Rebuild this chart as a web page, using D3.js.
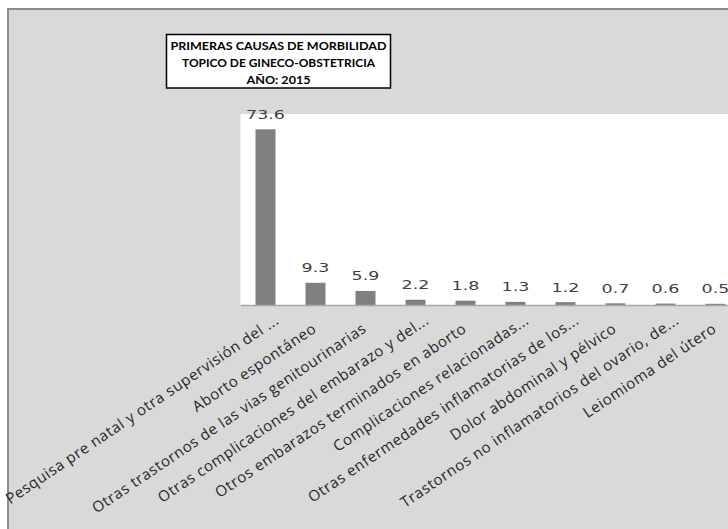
<!DOCTYPE html>
<html><head><meta charset="utf-8">
<script src="https://cdn.jsdelivr.net/npm/d3@7"></script>
<style>html,body{margin:0;padding:0;background:#fff;}svg{display:block;}</style>
</head><body>
<script>
const categories = [
  "Pesquisa pre natal y otra supervisión del ...",
  "Aborto espontáneo",
  "Otras trastornos de las vias genitourinarias",
  "Otras complicaciones del embarazo y  del...",
  "Otros embarazos terminados en aborto",
  "Complicaciones relacionadas...",
  "Otras enfermedades inflamatorias de los...",
  "Dolor abdominal y pélvico",
  "Trastornos no inflamatorios del ovario, de...",
  "Leiomioma del útero"
];
const values = [73.6, 9.3, 5.9, 2.2, 1.8, 1.3, 1.2, 0.7, 0.6, 0.5];
const titleLines = ["PRIMERAS CAUSAS DE MORBILIDAD", "TOPICO DE GINECO-OBSTETRICIA", "AÑO: 2015"];
const yDomain = [0, 80];

const W = 728, H = 529;
const svg = d3.select("body").append("svg").attr("width", W).attr("height", H);

// chart area
svg.append("rect").attr("x", 8).attr("y", 9).attr("width", W).attr("height", H)
  .attr("fill", "#d9d9d9").attr("stroke", "#8c8c8c").attr("stroke-width", 2);

const plot = {left: 240.5, right: 740.5, top: 114, bottom: 305};
svg.append("rect").attr("x", plot.left).attr("y", plot.top)
  .attr("width", plot.right - plot.left).attr("height", plot.bottom - plot.top).attr("fill", "#fff");

const x = d3.scaleBand().domain(categories).range([plot.left, plot.right]).paddingInner(0.6).paddingOuter(0.3);
const y = d3.scaleLinear().domain(yDomain).range([plot.bottom, plot.top]);

svg.selectAll("rect.bar").data(values).enter().append("rect").attr("class", "bar")
  .attr("x", (d, i) => x(categories[i]))
  .attr("y", d => y(d))
  .attr("width", x.bandwidth())
  .attr("height", d => y(0) - y(d))
  .attr("fill", "#808080");

// x axis
const xAxis = svg.append("g").attr("transform", `translate(0,${plot.bottom})`)
  .call(d3.axisBottom(x).tickSize(0).tickFormat(""));
xAxis.select(".domain").attr("stroke", "#a6a6a6").attr("stroke-width", 1.5);

const sx = 1.52;
// value labels
svg.selectAll("text.val").data(values).enter().append("text").attr("class", "val")
  .attr("transform", (d, i) => `translate(${x(categories[i]) + x.bandwidth() / 2},${y(d) - 10.5}) scale(${sx},1)`)
  .attr("text-anchor", "middle")
  .attr("font-family", "DejaVu Sans").attr("font-size", 11.5).attr("fill", "#404040")
  .text(d => d.toFixed(1));

// category labels
const ang = 34;
const dirx = Math.cos(ang * Math.PI / 180), diry = -Math.sin(ang * Math.PI / 180);
svg.selectAll("text.cat").data(categories).enter().append("text").attr("class", "cat")
  .attr("transform", (d, i) => {
    const ext = d.endsWith("...") ? 15 : 0;
    const cx = x(d) + x.bandwidth() / 2 + 2 + ext * dirx;
    const cy = 331 + ext * diry;
    return `translate(${cx},${cy}) rotate(${-ang})`;
  })
  .attr("text-anchor", "end")
  .attr("font-family", "Open Sans").attr("font-size", 15).attr("letter-spacing", 0.6).attr("fill", "#262626")
  .text(d => d);

// title
svg.append("rect").attr("x", 166.5).attr("y", 34.5).attr("width", 224).attr("height", 53.5)
  .attr("fill", "#fff").attr("stroke", "#000").attr("stroke-width", 1.5);
const titleLens = [216, 193, 64];
svg.selectAll("text.title").data(titleLines).enter().append("text").attr("class", "title")
  .attr("x", 278.5).attr("y", (d, i) => 49.5 + i * 17)
  .attr("text-anchor", "middle")
  .attr("font-family", "Lato").attr("font-weight", "bold").attr("font-size", 12).attr("fill", "#000")
  .attr("textLength", (d, i) => titleLens[i]).attr("lengthAdjust", "spacingAndGlyphs")
  .text(d => d);
</script>
</body></html>
